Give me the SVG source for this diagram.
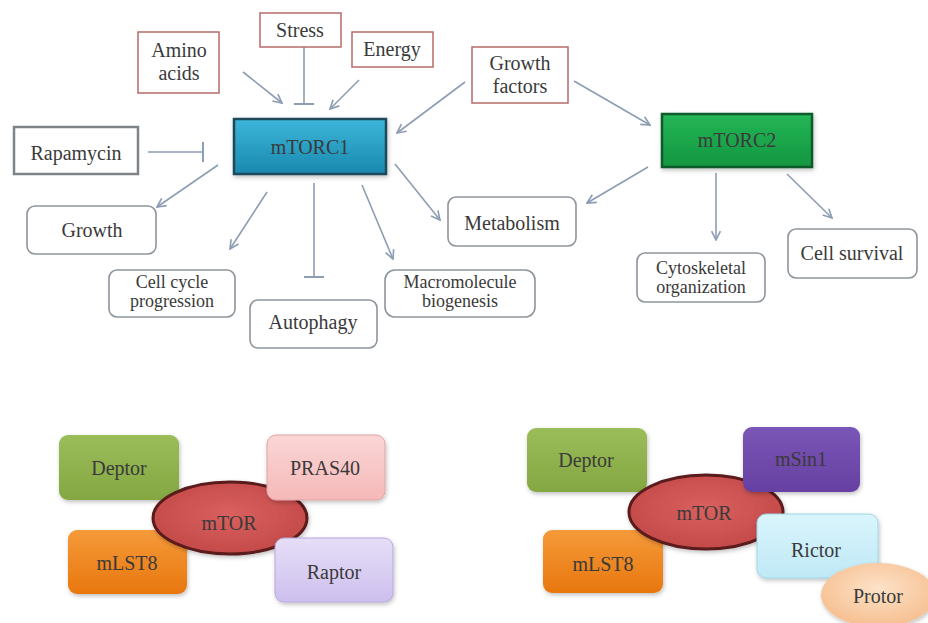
<svg xmlns="http://www.w3.org/2000/svg" width="928" height="623" viewBox="0 0 928 623">
<defs>
<style>
text{font-family:"Liberation Serif","Times New Roman",serif;font-size:20px;text-anchor:middle;fill:#3a3a3a}
.sig{fill:#fff;stroke:#b86a6a;stroke-width:1.5}
.out{fill:#fff;stroke:#8e959c;stroke-width:1.6}
.rap{fill:#fff;stroke:#7e8388;stroke-width:2.5}
.con{stroke:#8d9db3;stroke-width:1.6;fill:none}
.sm{font-size:18px}
</style>
<marker id="arr" viewBox="0 0 10 10" refX="9" refY="5" markerWidth="11" markerHeight="11" markerUnits="userSpaceOnUse" orient="auto">
<path d="M1,1 L9,5 L1,9" fill="none" stroke="#8d9db3" stroke-width="1.5"/>
</marker>
<marker id="inh" viewBox="0 0 4 20" refX="2" refY="10" markerWidth="4" markerHeight="20" markerUnits="userSpaceOnUse" orient="auto">
<path d="M2,0 L2,20" stroke="#8d9db3" stroke-width="2"/>
</marker>
<linearGradient id="g1" x1="0" y1="0" x2="0" y2="1"><stop offset="0" stop-color="#3cb6da"/><stop offset="1" stop-color="#1a88ae"/></linearGradient>
<linearGradient id="g2" x1="0" y1="0" x2="0" y2="1"><stop offset="0" stop-color="#24b656"/><stop offset="1" stop-color="#139640"/></linearGradient>
<linearGradient id="gDep" x1="0" y1="0" x2="0" y2="1"><stop offset="0" stop-color="#9bbd5a"/><stop offset="1" stop-color="#84a742"/></linearGradient>
<linearGradient id="gPra" x1="0" y1="0" x2="0" y2="1"><stop offset="0" stop-color="#fbd6d6"/><stop offset="1" stop-color="#f5b8b8"/></linearGradient>
<linearGradient id="gLst" x1="0" y1="0" x2="0" y2="1"><stop offset="0" stop-color="#f59a3a"/><stop offset="1" stop-color="#e8770e"/></linearGradient>
<linearGradient id="gRap" x1="0" y1="0" x2="0" y2="1"><stop offset="0" stop-color="#e6def7"/><stop offset="1" stop-color="#cdbfee"/></linearGradient>
<linearGradient id="gSin" x1="0" y1="0" x2="0" y2="1"><stop offset="0" stop-color="#7a56b6"/><stop offset="1" stop-color="#6640a2"/></linearGradient>
<linearGradient id="gRic" x1="0" y1="0" x2="0" y2="1"><stop offset="0" stop-color="#daf5fc"/><stop offset="1" stop-color="#bfe9f6"/></linearGradient>
<radialGradient id="gPro" cx="0.5" cy="0.4" r="0.6"><stop offset="0" stop-color="#fde2c8"/><stop offset="1" stop-color="#f6bf90"/></radialGradient>
<radialGradient id="gTor" cx="0.5" cy="0.45" r="0.6"><stop offset="0" stop-color="#d9605e"/><stop offset="1" stop-color="#c24848"/></radialGradient>
<filter id="sh" x="-20%" y="-20%" width="140%" height="150%"><feDropShadow dx="1" dy="2" stdDeviation="2" flood-color="#000" flood-opacity="0.25"/></filter>
</defs>
<rect width="928" height="623" fill="#ffffff"/>

<g id="connectors">
<line class="con" x1="243" y1="72" x2="282" y2="103" marker-end="url(#arr)"/>
<line class="con" x1="304" y1="47" x2="304" y2="104" marker-end="url(#inh)"/>
<line class="con" x1="359" y1="80" x2="330" y2="109" marker-end="url(#arr)"/>
<line class="con" x1="465" y1="82" x2="397" y2="133" marker-end="url(#arr)"/>
<line class="con" x1="574" y1="81" x2="650" y2="125" marker-end="url(#arr)"/>
<line class="con" x1="148" y1="152" x2="203" y2="152" marker-end="url(#inh)"/>
<line class="con" x1="218" y1="165" x2="157" y2="207" marker-end="url(#arr)"/>
<line class="con" x1="267" y1="192" x2="230" y2="249" marker-end="url(#arr)"/>
<line class="con" x1="314" y1="183" x2="314" y2="277" marker-end="url(#inh)"/>
<line class="con" x1="362" y1="185" x2="393" y2="259" marker-end="url(#arr)"/>
<line class="con" x1="395" y1="164" x2="440" y2="220" marker-end="url(#arr)"/>
<line class="con" x1="648" y1="167" x2="587" y2="203" marker-end="url(#arr)"/>
<line class="con" x1="716" y1="173" x2="716" y2="240" marker-end="url(#arr)"/>
<line class="con" x1="787" y1="174" x2="832" y2="218" marker-end="url(#arr)"/>
</g>

<g id="amino-acids"><rect class="sig" x="138" y="32" width="81" height="61"/><text x="179" y="57">Amino</text><text x="179" y="80">acids</text></g>
<g id="stress"><rect class="sig" x="260" y="13" width="81" height="34"/><text x="300" y="37">Stress</text></g>
<g id="energy"><rect class="sig" x="352" y="32" width="81" height="35"/><text x="392" y="56">Energy</text></g>
<g id="growth-factors"><rect class="sig" x="472" y="47" width="96" height="56"/><text x="520" y="70">Growth</text><text x="520" y="93">factors</text></g>
<g id="rapamycin"><rect class="rap" x="14" y="127" width="124" height="47"/><text x="76" y="160">Rapamycin</text></g>
<g id="mtorc1"><rect x="234" y="119" width="152" height="55" fill="url(#g1)" stroke="#1d4a5c" stroke-width="2.5" filter="url(#sh)"/><text x="310" y="154" fill="#b6e6f4">mTORC1</text></g>
<g id="mtorc2"><rect x="662" y="114" width="150" height="53" fill="url(#g2)" stroke="#0f5a2a" stroke-width="2.5" filter="url(#sh)"/><text x="737" y="147" fill="#b8f0c8">mTORC2</text></g>
<g id="growth"><rect class="out" x="27" y="206" width="129" height="48" rx="8"/><text x="92" y="237">Growth</text></g>
<g id="cell-cycle"><rect class="out" x="109" y="270" width="126" height="47" rx="8"/><text class="sm" x="172" y="288">Cell cycle</text><text class="sm" x="172" y="307">progression</text></g>
<g id="autophagy"><rect class="out" x="250" y="300" width="127" height="48" rx="8"/><text x="313" y="329">Autophagy</text></g>
<g id="macromolecule"><rect class="out" x="385" y="270" width="150" height="47" rx="10"/><text class="sm" x="460" y="288">Macromolecule</text><text class="sm" x="460" y="307">biogenesis</text></g>
<g id="metabolism"><rect class="out" x="448" y="197" width="128" height="49" rx="8"/><text x="512" y="230">Metabolism</text></g>
<g id="cytoskeletal"><rect class="out" x="637" y="253" width="128" height="49" rx="8"/><text class="sm" x="701" y="274">Cytoskeletal</text><text class="sm" x="701" y="293">organization</text></g>
<g id="cell-survival"><rect class="out" x="788" y="229" width="129" height="49" rx="8"/><text x="852" y="260">Cell survival</text></g>

<g id="mtorc1-complex">
<g id="deptor1"><rect x="59" y="435" width="120" height="65" rx="9" fill="url(#gDep)" filter="url(#sh)"/><text x="119" y="475" fill="#2d4512">Deptor</text></g>
<g id="mlst8-1"><rect x="68" y="530" width="119" height="64" rx="9" fill="url(#gLst)" filter="url(#sh)"/><text x="127" y="570" fill="#5a2c05">mLST8</text></g>
<g id="mtor1"><ellipse cx="230" cy="518" rx="77" ry="36" fill="url(#gTor)" stroke="#5a1a1a" stroke-width="3" filter="url(#sh)"/><text x="229" y="530" fill="#5a1414">mTOR</text></g>
<g id="pras40"><rect x="267" y="435" width="118" height="65" rx="9" fill="url(#gPra)" stroke="#e0a4a4" stroke-width="1" filter="url(#sh)"/><text x="325" y="475" fill="#6a2a2a">PRAS40</text></g>
<g id="raptor"><rect x="275" y="538" width="118" height="64" rx="9" fill="url(#gRap)" stroke="#b8a8dc" stroke-width="1" filter="url(#sh)"/><text x="334" y="579" fill="#3a3262">Raptor</text></g>
</g>

<g id="mtorc2-complex">
<g id="deptor2"><rect x="527" y="428" width="120" height="64" rx="9" fill="url(#gDep)" filter="url(#sh)"/><text x="586" y="467" fill="#2d4512">Deptor</text></g>
<g id="mlst8-2"><rect x="543" y="530" width="120" height="63" rx="9" fill="url(#gLst)" filter="url(#sh)"/><text x="603" y="571" fill="#5a2c05">mLST8</text></g>
<g id="mtor2"><ellipse cx="706" cy="512" rx="77" ry="37" fill="url(#gTor)" stroke="#5a1a1a" stroke-width="3" filter="url(#sh)"/><text x="704" y="520" fill="#5a1414">mTOR</text></g>
<g id="msin1"><rect x="743" y="427" width="117" height="65" rx="9" fill="url(#gSin)" filter="url(#sh)"/><text x="801" y="466" fill="#2c1452">mSin1</text></g>
<g id="rictor"><rect x="757" y="514" width="121" height="64" rx="9" fill="url(#gRic)" stroke="#9fd4e6" stroke-width="1" filter="url(#sh)"/><text x="816" y="557" fill="#243444">Rictor</text></g>
<g id="protor"><ellipse cx="878" cy="595" rx="57" ry="32" fill="url(#gPro)" filter="url(#sh)"/><text x="878" y="603" fill="#4a3424">Protor</text></g>
</g>
</svg>
